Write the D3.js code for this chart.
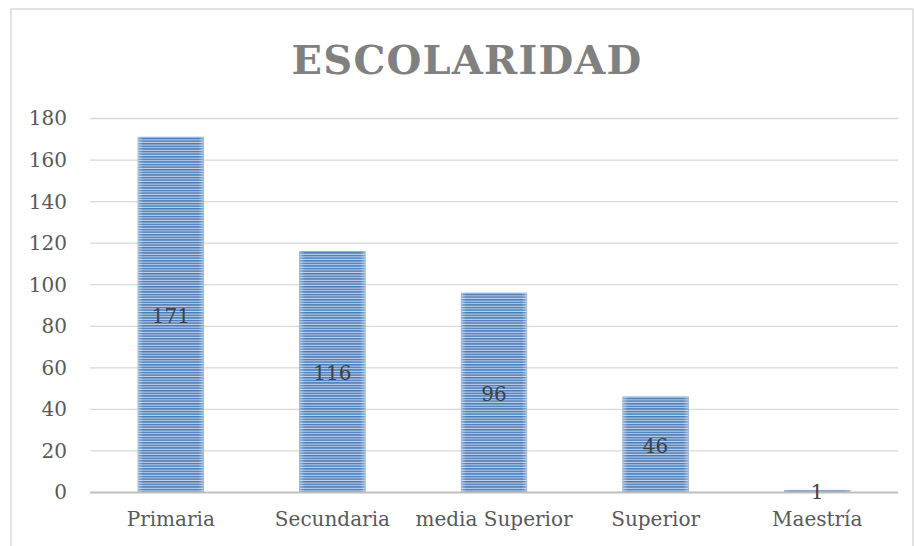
<!DOCTYPE html>
<html>
<head>
<meta charset="utf-8">
<script src="https://cdn.jsdelivr.net/npm/d3@7"></script>
<style>
  html, body { margin: 0; padding: 0; background: #fff; }
  svg { display: block; }
</style>
</head>
<body>
<div id="chart"></div>
<script>
// Data
const categories = ["Primaria", "Secundaria", "media Superior", "Superior", "Maestría"];
const values = [171, 116, 96, 46, 1];
const yTicks = [0, 20, 40, 60, 80, 100, 120, 140, 160, 180];
const chartTitle = "ESCOLARIDAD";

const width = 914;
const height = 546;
const font = "'DejaVu Serif', 'Liberation Serif', serif";

const svg = d3.select("#chart").append("svg")
  .attr("width", width)
  .attr("height", height);

const defs = svg.append("defs");

// horizontal stripe fill
const pattern = defs.append("pattern")
  .attr("id", "stripes")
  .attr("patternUnits", "userSpaceOnUse")
  .attr("width", 10)
  .attr("height", 2.6);
pattern.append("rect")
  .attr("width", 10).attr("height", 2.6)
  .attr("fill", "#c4d5ec");
pattern.append("rect")
  .attr("width", 10).attr("height", 1.5)
  .attr("fill", "#4779b8");

// soft light edges on the bars
const grad = defs.append("linearGradient")
  .attr("id", "edges")
  .attr("x1", "0").attr("x2", "1").attr("y1", "0").attr("y2", "0");
[[0, 0.35], [0.08, 0], [0.92, 0], [1, 0.35]].forEach(([o, a]) => {
  grad.append("stop")
    .attr("offset", o)
    .attr("stop-color", "#ffffff")
    .attr("stop-opacity", a);
});

// chart frame
svg.append("rect")
  .attr("x", 11)
  .attr("y", 9)
  .attr("width", 902)
  .attr("height", 560)
  .attr("fill", "none")
  .attr("stroke", "#d9d9d9")
  .attr("stroke-width", 1.5);

// title
svg.append("text")
  .attr("x", 467)
  .attr("y", 59)
  .attr("text-anchor", "middle")
  .attr("dominant-baseline", "central")
  .attr("font-family", font)
  .attr("font-weight", "bold")
  .attr("font-size", "40px")
  .attr("letter-spacing", "1.2px")
  .attr("fill", "#808080")
  .text(chartTitle);

const x = d3.scaleBand()
  .domain(categories)
  .range([90, 898])
  .paddingInner(0.595)
  .paddingOuter(0.2975);

const y = d3.scaleLinear()
  .domain([0, 180])
  .range([492.5, 118.5]);

// gridlines
svg.append("g")
  .selectAll("line")
  .data(yTicks.filter(d => d > 0))
  .join("line")
  .attr("x1", 90)
  .attr("x2", 898)
  .attr("y1", d => y(d))
  .attr("y2", d => y(d))
  .attr("stroke", "#d9d9d9")
  .attr("stroke-width", 1.3);

// y axis labels
const yAxis = svg.append("g")
  .attr("transform", "translate(67,0)")
  .call(d3.axisLeft(y).tickValues(yTicks).tickSize(0).tickPadding(0));
yAxis.select(".domain").remove();
yAxis.selectAll("text")
  .attr("font-family", font)
  .attr("font-size", "20px")
  .attr("fill", "#595959");

// bars
const bars = svg.append("g");
bars.selectAll("rect.bar")
  .data(values)
  .join("rect")
  .attr("class", "bar")
  .attr("x", (d, i) => x(categories[i]))
  .attr("y", d => y(d))
  .attr("width", x.bandwidth())
  .attr("height", d => y(0) - y(d))
  .attr("fill", "url(#stripes)")
  .attr("stroke", "#7aa0d0")
  .attr("stroke-width", 0.8);
bars.selectAll("rect.gloss")
  .data(values)
  .join("rect")
  .attr("class", "gloss")
  .attr("x", (d, i) => x(categories[i]))
  .attr("y", d => y(d))
  .attr("width", x.bandwidth())
  .attr("height", d => y(0) - y(d))
  .attr("fill", "url(#edges)");

// x axis line
svg.append("line")
  .attr("x1", 90)
  .attr("x2", 898)
  .attr("y1", y(0))
  .attr("y2", y(0))
  .attr("stroke", "#bfbfbf")
  .attr("stroke-width", 2.2);

// x axis labels
const xAxis = svg.append("g")
  .attr("transform", `translate(0,${y(0) + 19})`)
  .call(d3.axisBottom(x).tickSize(0).tickPadding(0));
xAxis.select(".domain").remove();
xAxis.selectAll("text")
  .attr("font-family", font)
  .attr("font-size", "20px")
  .attr("fill", "#595959");

// data labels
svg.append("g")
  .selectAll("text")
  .data(values)
  .join("text")
  .attr("x", (d, i) => x(categories[i]) + x.bandwidth() / 2)
  .attr("y", d => (y(d) + y(0)) / 2 + 1)
  .attr("text-anchor", "middle")
  .attr("dominant-baseline", "central")
  .attr("font-family", font)
  .attr("font-size", "20px")
  .attr("fill", "#404040")
  .text(d => d);
</script>
</body>
</html>
